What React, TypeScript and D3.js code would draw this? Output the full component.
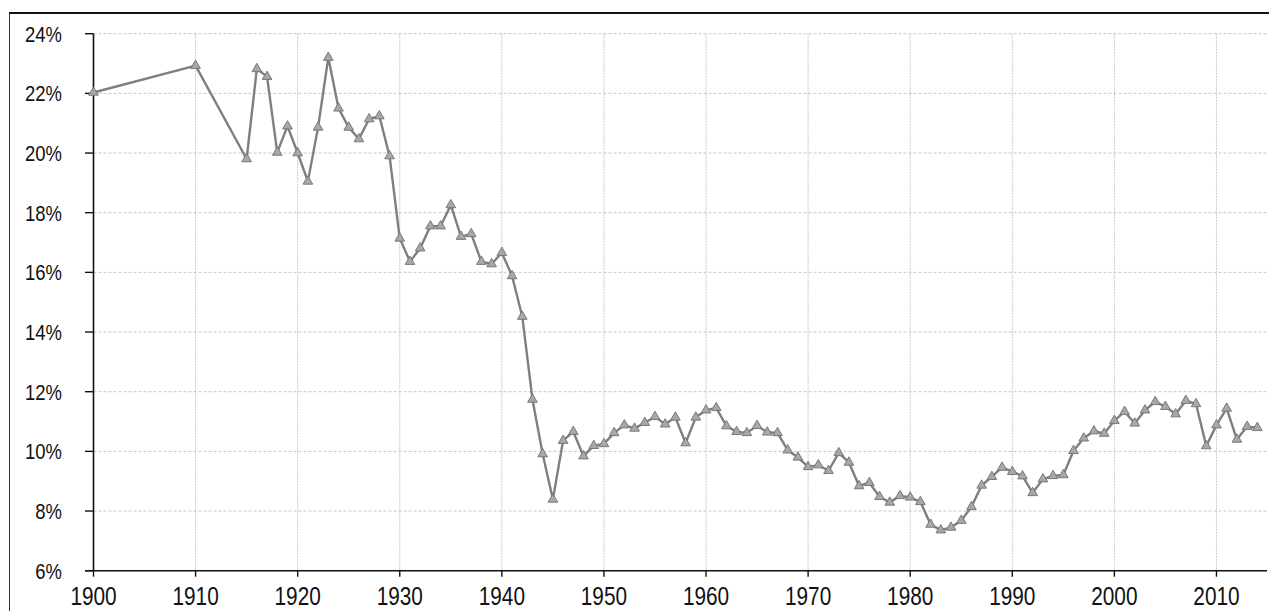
import React from "react";
import * as d3 from "d3";

const years: number[] = [
  1900, 1910, 1915, 1916, 1917, 1918, 1919, 1920, 1921, 1922, 1923, 1924, 1925, 1926, 1927, 1928, 1929,
  1930, 1931, 1932, 1933, 1934, 1935, 1936, 1937, 1938, 1939, 1940, 1941, 1942, 1943, 1944, 1945, 1946,
  1947, 1948, 1949, 1950, 1951, 1952, 1953, 1954, 1955, 1956, 1957, 1958, 1959, 1960, 1961, 1962, 1963,
  1964, 1965, 1966, 1967, 1968, 1969, 1970, 1971, 1972, 1973, 1974, 1975, 1976, 1977, 1978, 1979, 1980,
  1981, 1982, 1983, 1984, 1985, 1986, 1987, 1988, 1989, 1990, 1991, 1992, 1993, 1994, 1995, 1996, 1997,
  1998, 1999, 2000, 2001, 2002, 2003, 2004, 2005, 2006, 2007, 2008, 2009, 2010, 2011, 2012, 2013, 2014,
];

const shares: number[] = [
  22.03, 22.93, 19.8, 22.82, 22.56, 20.02, 20.9, 20.0, 19.05, 20.86, 23.2, 21.5, 20.86, 20.47, 21.14, 21.24, 19.9,
  17.14, 16.36, 16.81, 17.55, 17.55, 18.26, 17.2, 17.29, 16.36, 16.28, 16.66, 15.88, 14.52, 11.74, 9.91, 8.39, 10.36,
  10.66, 9.84, 10.19, 10.25, 10.62, 10.88, 10.77, 10.96, 11.16, 10.91, 11.14, 10.28, 11.14, 11.38, 11.46, 10.85, 10.66,
  10.62, 10.86, 10.64, 10.62, 10.04, 9.8, 9.48, 9.54, 9.35, 9.95, 9.63, 8.84, 8.95, 8.48, 8.29, 8.51, 8.46,
  8.31, 7.55, 7.36, 7.45, 7.68, 8.14, 8.86, 9.15, 9.46, 9.32, 9.17, 8.61, 9.07, 9.18, 9.21, 10.02, 10.44,
  10.68, 10.6, 11.03, 11.33, 10.94, 11.38, 11.66, 11.5, 11.25, 11.7, 11.59, 10.18, 10.88, 11.44, 10.4, 10.83, 10.79,
];

const yTicks: number[] = [6, 8, 10, 12, 14, 16, 18, 20, 22, 24];
const xTicks: number[] = [1900, 1910, 1920, 1930, 1940, 1950, 1960, 1970, 1980, 1990, 2000, 2010];

const W = 1269;
const H = 611;

export default function App() {
  const x = d3.scaleLinear().domain([1900, 2015]).range([93.5, 1267.5]);
  const y = d3.scaleLinear().domain([6, 24]).range([570.7, 33.7]);
  const data = years.map((yr, i) => ({ yr, v: shares[i] }));
  const line = d3
    .line<{ yr: number; v: number }>()
    .x((d) => x(d.yr))
    .y((d) => y(d.v));
  const tri = d3.symbol().type(d3.symbolTriangle).size(40)() as string;
  const x0 = x(1900);
  const xEnd = 1267;
  const yBase = y(6);
  const ySx = 0.84;
  const xSx = 0.8;

  return (
    <svg
      width={W}
      height={H}
      style={{ position: "absolute", left: 0, top: 0, background: "#fff" }}
      fontFamily="'Liberation Sans', Arial, sans-serif"
    >
      <rect x={0} y={0} width={W} height={H} fill="#fff" />
      {/* frame */}
      <line x1={9} x2={W} y1={13} y2={13} stroke="#111" strokeWidth={2} />
      <line x1={9.5} x2={9.5} y1={13} y2={H} stroke="#333" strokeWidth={1} />

      {/* horizontal grid */}
      {yTicks.slice(1).map((t) => (
        <line
          key={"hg" + t}
          x1={x0}
          x2={xEnd}
          y1={y(t)}
          y2={y(t)}
          stroke="#c8c8c8"
          strokeWidth={1}
          strokeDasharray="3,2"
        />
      ))}
      {/* vertical grid */}
      {xTicks.slice(1).map((t) => (
        <line
          key={"vg" + t}
          x1={x(t)}
          x2={x(t)}
          y1={y(24)}
          y2={yBase}
          stroke="#c8c8c8"
          strokeWidth={1}
          strokeDasharray="2,1"
        />
      ))}

      {/* axes */}
      <line x1={x0} x2={x0} y1={y(24)} y2={yBase} stroke="#111" strokeWidth={1.6} />
      <line x1={85} x2={xEnd} y1={yBase} y2={yBase} stroke="#111" strokeWidth={1.6} />
      {yTicks.map((t) => (
        <g key={"yt" + t}>
          <line x1={85} x2={x0} y1={y(t)} y2={y(t)} stroke="#111" strokeWidth={1.4} />
          <text
            transform={`translate(62,${y(t) + 8}) scale(${ySx},1)`}
            textAnchor="end"
            fontSize={22}
            fill="#111"
          >
            {t}%
          </text>
        </g>
      ))}
      {xTicks.map((t) => (
        <g key={"xt" + t}>
          <line x1={x(t)} x2={x(t)} y1={yBase} y2={yBase + 6} stroke="#111" strokeWidth={1.4} />
          <text
            transform={`translate(${x(t)},${yBase + 34}) scale(${xSx},1)`}
            textAnchor="middle"
            fontSize={26}
            fill="#111"
          >
            {t}
          </text>
        </g>
      ))}

      {/* series */}
      <path d={line(data) as string} fill="none" stroke="#7f7f7f" strokeWidth={2.4} strokeLinejoin="round" />
      {data.map((d) => (
        <path
          key={"m" + d.yr}
          d={tri}
          transform={`translate(${x(d.yr)},${y(d.v)})`}
          fill="#a8a8a8"
          stroke="#787878"
          strokeWidth={1}
        />
      ))}
    </svg>
  );
}
